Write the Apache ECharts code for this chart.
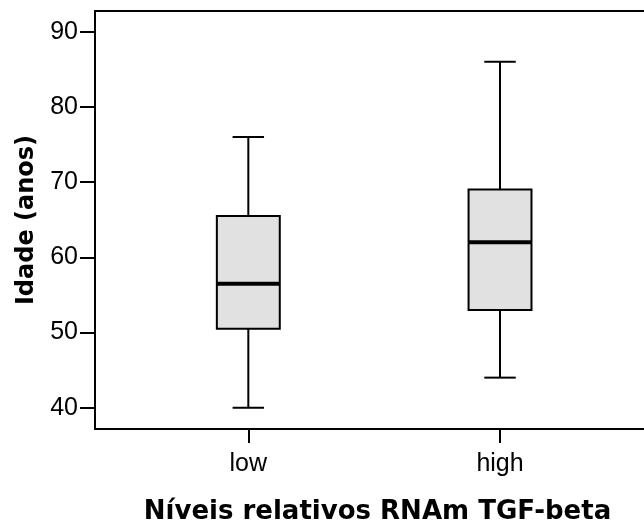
<!DOCTYPE html>
<html>
<head>
<meta charset="utf-8">
<script src="https://cdn.jsdelivr.net/npm/echarts@6/dist/echarts.min.js"></script>
<style>
  html, body { margin: 0; padding: 0; background: #fff; }
  #chart { width: 644px; height: 530px; }
</style>
</head>
<body>
<div id="chart"></div>
<script>
// ---- Data ----
const categories = ['low', 'high'];
const categoryPositions = [1, 2];
const minVals = [40, 44];
const q1Vals = [50.5, 53];
const medianVals = [56.5, 62];
const q3Vals = [65.5, 69];
const maxVals = [76, 86];
const yTicks = [40, 50, 60, 70, 80, 90];
const yTitle = 'Idade (anos)';
const xTitle = 'Níveis relativos RNAm TGF-beta';

const boxData = categories.map((c, i) => [
  categoryPositions[i], minVals[i], q1Vals[i], medianVals[i], q3Vals[i], maxVals[i]
]);

const chart = echarts.init(document.getElementById('chart'), null, { renderer: 'canvas' });

function renderBox(params, api) {
  const x = api.value(0);
  const pMin = api.coord([x, api.value(1)]);
  const pQ1 = api.coord([x, api.value(2)]);
  const pMed = api.coord([x, api.value(3)]);
  const pQ3 = api.coord([x, api.value(4)]);
  const pMax = api.coord([x, api.value(5)]);
  const cx = pMin[0];
  const bw = api.size([0.25, 0])[0];
  const cw = bw / 2;
  const lineStyle = { stroke: '#000', lineWidth: 2 };
  return {
    type: 'group',
    children: [
      { type: 'line', shape: { x1: cx, y1: pMax[1], x2: cx, y2: pQ3[1] }, style: lineStyle },
      { type: 'line', shape: { x1: cx, y1: pQ1[1], x2: cx, y2: pMin[1] }, style: lineStyle },
      { type: 'line', shape: { x1: cx - cw / 2, y1: pMax[1], x2: cx + cw / 2, y2: pMax[1] }, style: lineStyle },
      { type: 'line', shape: { x1: cx - cw / 2, y1: pMin[1], x2: cx + cw / 2, y2: pMin[1] }, style: lineStyle },
      { type: 'rect', shape: { x: cx - bw / 2, y: pQ3[1], width: bw, height: pQ1[1] - pQ3[1] },
        style: { fill: '#e1e1e1', stroke: '#000', lineWidth: 2 } },
      { type: 'line', shape: { x1: cx - bw / 2, y1: pMed[1], x2: cx + bw / 2, y2: pMed[1] },
        style: { stroke: '#000', lineWidth: 4 } }
    ]
  };
}

const xMin = 0.3909, xMax = 2.572;

const option = {
  animation: false,
  backgroundColor: '#ffffff',
  grid: { left: 95, top: 11, right: 0, bottom: 101, show: false },
  xAxis: [{
    type: 'value',
    min: xMin,
    max: xMax,
    splitLine: { show: false },
    axisLine: { show: true, lineStyle: { color: '#000', width: 2 } },
    axisTick: { show: true, length: 14, customValues: categoryPositions, lineStyle: { color: '#000', width: 2 } },
    axisLabel: {
      show: true, customValues: categoryPositions, margin: 23,
      formatter: v => categories[categoryPositions.indexOf(v)] || '',
      color: '#000', fontSize: 25, fontFamily: 'Liberation Sans'
    },
    name: xTitle,
    nameLocation: 'middle',
    nameGap: 70,
    nameTextStyle: { color: '#000', fontSize: 26, fontWeight: 'bold', fontFamily: 'DejaVu Sans', padding: [0, 0, 0, 16] }
  }, {
    type: 'value',
    position: 'top',
    min: xMin,
    max: xMax,
    splitLine: { show: false },
    axisLine: { show: true, lineStyle: { color: '#000', width: 2 } },
    axisTick: { show: false },
    axisLabel: { show: false }
  }],
  yAxis: {
    type: 'value',
    min: 37.17,
    max: 92.75,
    splitLine: { show: false },
    axisLine: { show: true, lineStyle: { color: '#000', width: 2 } },
    axisTick: { show: true, length: 15, customValues: yTicks, lineStyle: { color: '#000', width: 2 } },
    axisLabel: {
      show: true, customValues: yTicks, margin: 17,
      color: '#000', fontSize: 25, fontFamily: 'Liberation Sans'
    },
    name: yTitle,
    nameLocation: 'middle',
    nameGap: 56,
    nameTextStyle: { color: '#000', fontSize: 24, fontWeight: 'bold', fontFamily: 'DejaVu Sans' }
  },
  series: [{
    type: 'custom',
    renderItem: renderBox,
    xAxisIndex: 0,
    encode: { x: 0, y: [1, 2, 3, 4, 5] },
    data: boxData,
    clip: false
  }]
};
chart.setOption(option);
</script>
</body>
</html>
